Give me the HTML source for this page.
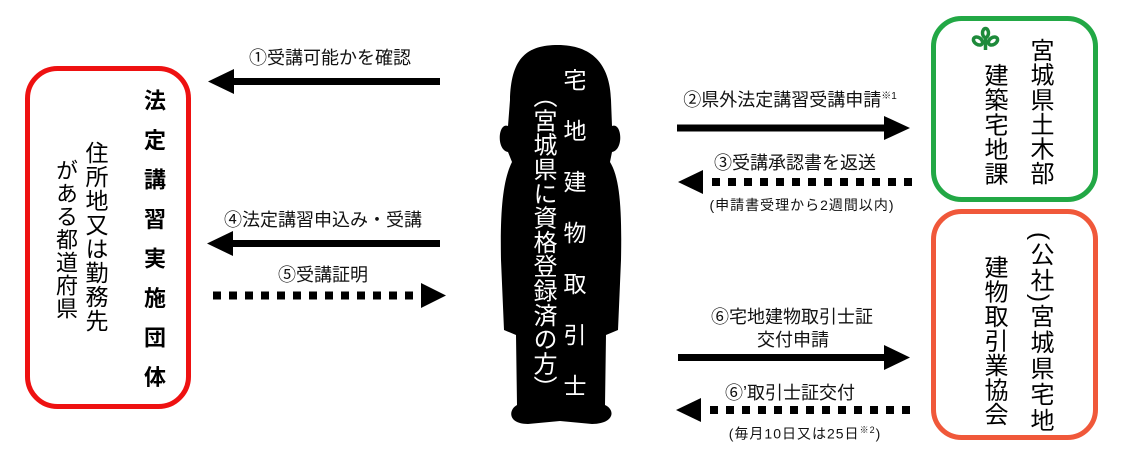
<!DOCTYPE html>
<html><head><meta charset="utf-8"><style>
html,body{margin:0;padding:0;background:#fff;}
body{width:1134px;height:473px;position:relative;overflow:hidden;font-family:"Liberation Sans","Noto Sans CJK JP",sans-serif;}
.v{position:absolute;writing-mode:vertical-rl;white-space:nowrap;line-height:1;}
.t{position:absolute;white-space:nowrap;font-size:18px;color:#111;line-height:1;}
.s{font-size:14px;letter-spacing:1px;}
.c{transform:translateX(-50%);}
</style></head><body>
<svg width="1134" height="473" style="position:absolute;left:0;top:0">
<rect x="27.5" y="68.5" width="161" height="338" rx="30" fill="none" stroke="#ee1111" stroke-width="5"/>
<rect x="933.5" y="18.5" width="162" height="181" rx="28" fill="none" stroke="#22a845" stroke-width="5"/>
<rect x="933.5" y="211.5" width="162" height="226" rx="28" fill="none" stroke="#f0583a" stroke-width="5"/>
<path d="M555,45 C590,44 610,62 611,100 L612,126 C622,122 624,150 612,152 L610,162 C620,178 622,210 621,260 L618,330 L606,335 L605,405 C616,410 614,424 592,424 L560,421 L528,424 C508,424 508,410 517,405 L516,335 L504,330 L501,260 C500,210 503,180 512,162 L508,152 C496,150 498,122 508,126 L510,100 C511,60 525,46 555,45 Z" fill="#000"/>
<rect x="232" y="78" width="208" height="7" fill="#000"/>
<polygon points="208,81.5 234,69 234,94" fill="#000"/>
<rect x="232" y="240" width="208" height="7" fill="#000"/>
<polygon points="207,243.5 233,231 233,256" fill="#000"/>
<line x1="213" y1="295.5" x2="422" y2="295.5" stroke="#000" stroke-width="8" stroke-dasharray="8,8"/>
<polygon points="446,295.5 421,283 421,308" fill="#000"/>
<rect x="677" y="124.5" width="208" height="7" fill="#000"/>
<polygon points="910,128 884,116 884,140" fill="#000"/>
<line x1="712" y1="182" x2="914" y2="182" stroke="#000" stroke-width="8" stroke-dasharray="8,8"/>
<polygon points="678,182 703,170 703,194" fill="#000"/>
<rect x="678" y="354" width="208" height="7" fill="#000"/>
<polygon points="910,357.5 884,345 884,370" fill="#000"/>
<line x1="710" y1="410" x2="912" y2="410" stroke="#000" stroke-width="8" stroke-dasharray="8,8"/>
<polygon points="676,410 701,398 701,422" fill="#000"/>
<g fill="none" stroke="#1d8a3a" stroke-width="3.5">
<ellipse cx="978" cy="41" rx="5" ry="3.5" transform="rotate(35 978 41)"/>
<ellipse cx="993" cy="41" rx="5" ry="3.5" transform="rotate(-35 993 41)"/>
<ellipse cx="985.5" cy="33" rx="3" ry="4.5"/>
<path d="M985.5,38 L985.5,50"/>
</g>
</svg>

<div class="v" style="left:142px;top:89px;font-size:22px;font-weight:bold;letter-spacing:17.5px;">法定講習実施団体</div>
<div class="v" style="left:83px;top:141px;font-size:23px;letter-spacing:1px;">住所地又は勤務先</div>
<div class="v" style="left:54px;top:159px;font-size:22px;letter-spacing:1px;">がある都道府県</div>

<div class="v" style="left:561px;top:68px;font-size:23px;color:#fff;letter-spacing:28px;">宅地建物取引士</div>
<div class="v" style="left:530px;top:84px;font-size:24px;color:#fff;letter-spacing:0.3px;">（宮城県に資格登録済の方）</div>

<div class="v" style="left:1027px;top:38px;font-size:24px;letter-spacing:0.6px;">宮城県土木部</div>
<div class="v" style="left:981px;top:63px;font-size:24px;letter-spacing:0.6px;">建築宅地課</div>
<div class="v" style="left:1027px;top:232px;font-size:24px;letter-spacing:2px;">(公社)宮城県宅地</div>
<div class="v" style="left:981px;top:255px;font-size:24px;letter-spacing:0.5px;">建物取引業協会</div>

<div class="t c" style="left:330px;top:49px;">①受講可能かを確認</div>
<div class="t c" style="left:323px;top:211px;">④法定講習申込み・受講</div>
<div class="t c" style="left:323px;top:266px;">⑤受講証明</div>
<div class="t c" style="left:790px;top:91px;">②県外法定講習受講申請<sup style="font-size:10px">※1</sup></div>
<div class="t c" style="left:795px;top:154px;">③受講承認書を返送</div>
<div class="t c s" style="left:802px;top:198px;">(申請書受理から2週間以内)</div>
<div class="t c" style="left:792px;top:308px;">⑥宅地建物取引士証</div>
<div class="t c" style="left:793px;top:331px;">交付申請</div>
<div class="t c" style="left:790px;top:384px;">⑥’取引士証交付</div>
<div class="t c s" style="left:805px;top:426px;">(毎月10日又は25日<sup style="font-size:9px">※2</sup>)</div>
</body></html>
